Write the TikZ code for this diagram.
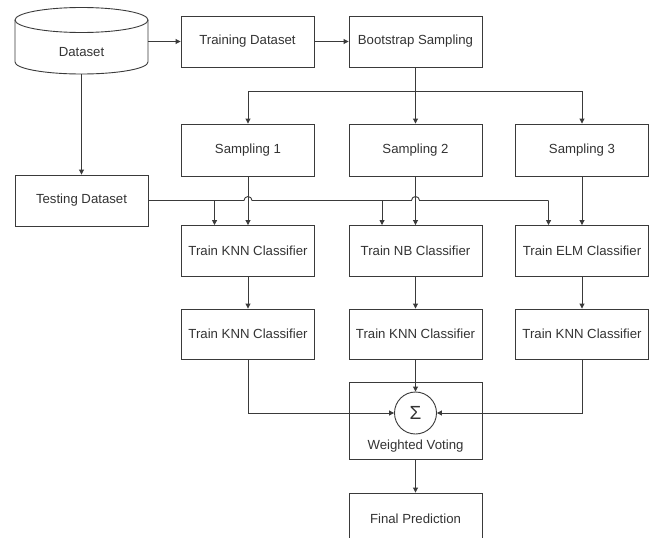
\documentclass[tikz,border=0pt]{standalone}
\usepackage{fontspec}
\setmainfont{Liberation Sans}
\usetikzlibrary{arrows.meta,calc}
\definecolor{ln}{HTML}{3A3A3A}
\definecolor{tx}{HTML}{333333}
\tikzset{
  box/.style={draw=ln, line width=0.9pt, rectangle, minimum width=133pt, minimum height=51pt, inner sep=0pt, text=tx, font=\fontsize{13.2}{15}\selectfont},
  lbl/.style={text=tx, font=\fontsize{13.2}{15}\selectfont, inner sep=0pt},
  arr/.style={draw=ln, line width=0.9pt, -{Triangle[length=5pt,width=5pt]}},
  con/.style={draw=ln, line width=0.9pt},
}
\begin{document}
\begin{tikzpicture}[x=1pt,y=-1pt]
\useasboundingbox (0,0) rectangle (651,538);
% cylinder
\draw[ln, line width=0.9pt] (15,20) -- (15,62) arc[start angle=180,end angle=360,x radius=66.5pt,y radius=12pt] -- (148,20);
\draw[ln, line width=0.9pt] (81.5,20) ellipse[x radius=66.5pt, y radius=12.5pt];
\node[minimum width=133pt, minimum height=67pt, inner sep=0pt] (ds) at (81.5,40.5) {};
\node[lbl] (dstext) at (81.5,52) {Dataset};
% boxes
\node[box] (train) at (247.5,41.5) {Training Dataset};
\node[box] (boot) at (415.5,41.5) {Bootstrap Sampling};
\node[box, minimum height=52pt] (s1) at (248,150) {Sampling 1};
\node[box, minimum height=52pt] (s2) at (415.5,150) {Sampling 2};
\node[box, minimum height=52pt] (s3) at (582,150) {Sampling 3};
\node[box] (test) at (81.5,200.5) {Testing Dataset};
\node[box] (k1) at (248,251) {Train KNN Classifier};
\node[box] (k2) at (415.5,251) {Train NB Classifier};
\node[box] (k3) at (582,251) {Train ELM Classifier};
\node[box, minimum height=50pt] (m1) at (248,334) {Train KNN Classifier};
\node[box, minimum height=50pt] (m2) at (415.5,334) {Train KNN Classifier};
\node[box, minimum height=50pt] (m3) at (582,334) {Train KNN Classifier};
\node[box, minimum height=77pt] (wv) at (415.5,420.5) {};
\node[draw=ln, line width=0.9pt, circle, minimum size=42pt, inner sep=0pt, text=tx, font=\fontsize{19}{20}\selectfont] (sig) at (415.5,413) {Σ};
\node[lbl] (wvtext) at (415.5,446) {Weighted Voting};
\node[box, minimum height=51pt] (fp) at (415.5,518.5) {Final Prediction};
% connectors
\draw[arr] (train.west -| ds.east) -- (train.west);
\draw[arr] (train.east) -- (boot.west);
\draw[con] (boot.south) -- ++(0,24) coordinate (br);
\draw[arr] (br) -- (s2.north);
\draw[arr] (br) -| (s1.north);
\draw[arr] (br) -| (s3.north);
\draw[arr] (ds.south) -- (test.north);
\draw[arr] (s1.south) -- (k1.north);
\draw[arr] (s2.south) -- (k2.north);
\draw[arr] (s3.south) -- (k3.north);
% testing line with hops
\coordinate (t1) at ($(k1.north west)!0.25!(k1.north east)$);
\coordinate (t2) at ($(k2.north west)!0.25!(k2.north east)$);
\coordinate (t3) at ($(k3.north west)!0.25!(k3.north east)$);
\draw[con] (test.east) -- ($(s1.south |- test.east)+(-4,0)$) arc[start angle=180,end angle=0,radius=4pt] -- ($(s2.south |- test.east)+(-4,0)$) arc[start angle=180,end angle=0,radius=4pt] -- (t3 |- test.east);
\draw[arr] (t1 |- test.east) -- (t1);
\draw[arr] (t2 |- test.east) -- (t2);
\draw[arr] (t3 |- test.east) -- (t3);
\draw[arr] (k1.south) -- (m1.north);
\draw[arr] (k2.south) -- (m2.north);
\draw[arr] (k3.south) -- (m3.north);
\draw[arr] (m2.south) -- (sig.north);
\draw[arr] (m1.south) |- (sig.west);
\draw[arr] (m3.south) |- (sig.east);
\draw[arr] (wv.south) -- (fp.north);
\end{tikzpicture}
\end{document}
